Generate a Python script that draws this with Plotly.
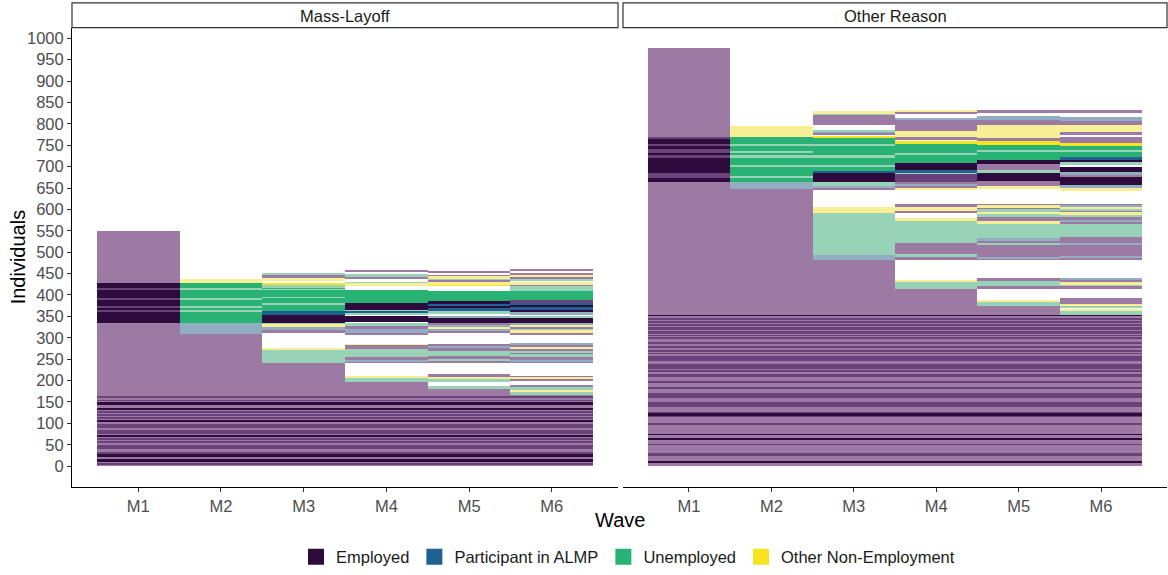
import plotly.graph_objects as go

# ---------------------------------------------------------------------------
# Data: state sequences of individuals per wave, summarised as stacked runs.
# Each wave list holds (upper bound, code) pairs stacked from the top of the
# "stable employment" block upward.  Codes: upper case = dominant sequence
# (solid), lower case = rarer sequence (faded), "m" = mid-shade employment,
# "-" = no observation.
# ---------------------------------------------------------------------------
waves = ["M1", "M2", "M3", "M4", "M5", "M6"]
facets = ["Mass-Layoff", "Other Reason"]
state_names = ["Employed", "Participant in ALMP", "Unemployed", "Other Non-Employment"]
y_ticks = list(range(0, 1001, 50))

# individuals employed in every wave (bottom block), with darker sub-runs
ml_stable_top = 166
ml_stable_lines = [(3.7, 9.1, "m"), (11.4, 16.8, "E"), (23.7, 28.3, "E"), (31.4, 34.5, "m"),
                   (41.4, 43.7, "m"), (47, 49, "m"), (56.8, 59.1, "m"), (62.2, 65.3, "m"),
                   (70.7, 74.5, "E"), (78, 80, "m"), (82.2, 86, "m"), (91, 93, "m"),
                   (96, 99, "m"), (105.3, 109.2, "E"), (113, 115, "m"), (118.4, 120.7, "m"),
                   (126, 128.4, "m"), (132.3, 137.6, "E"), (143.8, 151.5, "E"), (153, 155, "m"),
                   (160.8, 164.6, "m")]

or_stable_top = 354
or_stable_lines = [(9, 12.9, "E"), (24.5, 32.2, "m"), (51, 52.5, "m"), (62.9, 66.8, "E"),
                   (74, 75.5, "E"), (97.6, 101.4, "m"), (114.5, 128.4, "m"), (119, 120.5, "E"),
                   (123, 124.5, "E"), (139.9, 151.5, "m"), (159.2, 170.8, "m"), (182, 183.5, "m"),
                   (197, 198.5, "m"), (209.3, 217, "m"), (220.8, 224.7, "m"), (228, 229.5, "m"),
                   (232, 233.5, "m"), (236.2, 240.1, "m"), (247.5, 249, "m"), (251.6, 259.3, "m"),
                   (263, 264.5, "m"), (267, 273.2, "m"), (278, 279.5, "m"), (286.3, 290.1, "m"),
                   (299, 300.5, "m"), (305, 306.5, "m"), (309.4, 317, "m"), (320.9, 324.8, "m"),
                   (328.6, 332.5, "m"), (337.5, 339, "m"), (342.5, 345.5, "m"), (351.7, 354, "E")]

# Mass-Layoff
ml_m1 = [(335, "e"), (362, "E"), (363.5, "m"), (372, "E"), (373.5, "m"), (391, "E"), (392.5, "m"),
         (414, "E"), (415.5, "m"), (429, "E"), (551, "e")]
ml_m2 = [(310, "e"), (335, "a"), (362, "U"), (363.5, "u"), (372, "U"), (373.5, "u"), (391, "U"),
         (392.5, "u"), (414, "U"), (415.5, "u"), (429, "U"), (438, "o")]
ml_m3 = [(242, "e"), (272, "u"), (278, "o"), (311, "-"), (318, "e"), (326, "a"), (332, "o"),
         (336, "u"), (354, "E"), (363, "A"), (379, "U"), (380.5, "u"), (394, "U"), (395.5, "u"),
         (413, "U"), (414.5, "u"), (417, "U"), (423, "u"), (429, "O"), (434, "-"), (440, "o"),
         (448, "e"), (453, "u")]
ml_m4 = [(198, "e"), (208, "u"), (210, "o"), (242, "-"), (245, "e"), (250, "a"), (255, "e"),
         (275, "u"), (284, "e"), (286, "o"), (309, "-"), (312, "e"), (322, "a"), (329, "e"),
         (336, "u"), (338, "-"), (352, "E"), (355, "-"), (358, "u"), (363, "A"), (366, "u"),
         (381, "E"), (412, "U"), (422, "-"), (428, "o"), (431, "u"), (439, "-"), (443, "e"),
         (449, "u"), (454, "-"), (459, "e")]
ml_m5 = [(182, "e"), (188, "u"), (198, "-"), (205, "u"), (208, "o"), (215, "e"), (242, "-"),
         (247, "e"), (252, "u"), (259, "e"), (271, "u"), (278, "e"), (282, "a"), (286, "e"),
         (312, "-"), (316, "e"), (322, "a"), (326, "o"), (330, "a"), (336, "e"), (348, "E"),
         (352, "a"), (356, "-"), (363, "u"), (370, "A"), (376, "E"), (380, "A"), (386, "E"),
         (409, "U"), (422, "-"), (424, "O"), (426, "m"), (430, "o"), (436, "e"), (440, "u"),
         (444, "o"), (448, "e"), (452, "-"), (457, "e")]
ml_m6 = [(175, "u"), (178, "o"), (186, "u"), (190, "e"), (200, "-"), (205, "e"), (208, "o"),
         (211, "e"), (242, "-"), (246, "e"), (250, "a"), (256, "e"), (262, "u"), (266, "e"),
         (271, "u"), (276, "e"), (280, "o"), (284, "e"), (288, "a"), (309, "-"), (313, "e"),
         (318, "o"), (322, "u"), (326, "e"), (330, "o"), (336, "a"), (348, "E"), (352, "u"),
         (356, "-"), (360, "a"), (368, "E"), (372, "A"), (378, "E"), (383, "A"), (388, "m"),
         (409, "U"), (422, "u"), (426, "e"), (430, "o"), (434, "-"), (438, "u"), (444, "e"),
         (448, "o"), (452, "e"), (456, "-"), (461, "e")]

# Other Reason
or_m1 = [(664, "e"), (675, "E"), (687, "m"), (723, "E"), (727, "m"), (733, "E"), (743, "m"),
         (750, "E"), (754, "m"), (767, "E"), (771, "m"), (977, "e")]
or_m2 = [(649, "e"), (664, "a"), (675, "U"), (680, "u"), (700, "U"), (705, "u"), (723, "U"),
         (727, "u"), (733, "U"), (737, "u"), (750, "U"), (754, "u"), (771, "U"), (796, "o")]
or_m3 = [(483, "e"), (494, "a"), (592, "u"), (606, "o"), (648, "-"), (652, "e"), (656, "a"),
         (664, "u"), (685, "E"), (690, "A"), (700, "U"), (704, "u"), (723, "U"), (727, "u"),
         (750, "U"), (754, "u"), (767, "U"), (770, "-"), (773, "O"), (777, "-"), (780, "e"),
         (783, "a"), (787, "u"), (797, "-"), (823, "e"), (826, "u"), (830, "o")]
or_m4 = [(415, "e"), (430, "u"), (435, "o"), (483, "-"), (489, "e"), (497, "u"), (523, "e"),
         (574, "u"), (581, "o"), (594, "-"), (598, "e"), (607, "o"), (614, "e"), (648, "-"),
         (652, "o"), (656, "e"), (660, "a"), (666, "e"), (684, "m"), (688, "u"), (692, "A"),
         (710, "E"), (730, "U"), (733, "u"), (756, "U"), (760, "O"), (764, "-"), (771, "e"),
         (783, "o"), (810, "e"), (813, "a"), (825, "-"), (829, "e"), (833, "o")]
or_m5 = [(375, "e"), (386, "u"), (389, "o"), (415, "-"), (422, "e"), (433, "u"), (440, "e"),
         (483, "-"), (487, "e"), (490, "a"), (517, "e"), (522, "u"), (527, "e"), (533, "a"),
         (567, "u"), (574, "o"), (583, "e"), (590, "u"), (595, "o"), (602, "u"), (606, "e"),
         (610, "o"), (614, "e"), (648, "-"), (655, "o"), (667, "e"), (686, "E"), (694, "u"),
         (706, "e"), (717, "E"), (735, "U"), (740, "u"), (752, "U"), (760, "O"), (767, "e"),
         (797, "o"), (810, "e"), (818, "a"), (825, "-"), (833, "e")]
or_m6 = [(363, "u"), (369, "o"), (371, "-"), (375, "u"), (380, "o"), (394, "e"), (417, "-"),
         (421, "e"), (426, "u"), (430, "o"), (435, "e"), (440, "a"), (483, "-"), (487, "e"),
         (492, "a"), (517, "e"), (522, "a"), (537, "e"), (567, "u"), (572, "e"), (577, "a"),
         (583, "e"), (590, "u"), (594, "o"), (598, "e"), (602, "u"), (606, "o"), (610, "a"),
         (614, "e"), (646, "-"), (650, "o"), (657, "a"), (677, "E"), (681, "e"), (688, "a"),
         (700, "E"), (705, "-"), (711, "u"), (717, "E"), (723, "A"), (735, "U"), (740, "u"),
         (750, "U"), (757, "O"), (769, "e"), (775, "-"), (782, "e"), (797, "o"), (807, "e"),
         (817, "a"), (825, "-"), (833, "e")]

# ---------------------------------------------------------------------------
# Styling
# ---------------------------------------------------------------------------
colors = {
    "E": "#2d0b3c", "m": "#6b4179", "e": "#9c7aa4",
    "A": "#1f6290", "a": "#90adc2",
    "U": "#28b274", "u": "#98d2b7",
    "O": "#f6e51e", "o": "#f6ef95",
}
legend_codes = ["E", "A", "U", "O"]
FONT = "Liberation Sans, Arial, sans-serif"
W, H = 1168, 575

panel_px = [(72, 618), (623, 1167)]
top_px, bottom_px = 28, 493
y_range = [-48.8, 1024.8]
x_range = [0.2, 6.8]

panels = [
    ("x", "y", ml_stable_top, ml_stable_lines, [ml_m1, ml_m2, ml_m3, ml_m4, ml_m5, ml_m6]),
    ("x2", "y2", or_stable_top, or_stable_lines, [or_m1, or_m2, or_m3, or_m4, or_m5, or_m6]),
]

fig = go.Figure()

for xa, ya, stable_top, stable_lines, wave_runs in panels:
    # bottom block: employed in all six waves, spans the whole wave axis
    fig.add_trace(go.Bar(x=[3.5], y=[stable_top], base=[0], width=6,
                         marker=dict(color=colors["e"], line=dict(width=0)),
                         xaxis=xa, yaxis=ya, showlegend=False, hoverinfo="skip"))
    for code in ["m", "E"]:
        sel = [(lo, hi) for lo, hi, c in stable_lines if c == code]
        fig.add_trace(go.Bar(x=[3.5] * len(sel), y=[hi - lo for lo, hi in sel],
                             base=[lo for lo, hi in sel], width=6,
                             marker=dict(color=colors[code], line=dict(width=0)),
                             xaxis=xa, yaxis=ya, showlegend=False, hoverinfo="skip"))

    # per-wave runs above the stable block
    by_code = {}
    for i, runs in enumerate(wave_runs):
        lo = stable_top
        for hi, code in runs:
            if code != "-":
                d = by_code.setdefault(code, {"x": [], "y": [], "base": []})
                d["x"].append(i + 1)
                d["y"].append(hi - lo)
                d["base"].append(lo)
            lo = hi
    for code, d in by_code.items():
        fig.add_trace(go.Bar(x=d["x"], y=d["y"], base=d["base"], width=1,
                             marker=dict(color=colors[code], line=dict(width=0)),
                             xaxis=xa, yaxis=ya, showlegend=False, hoverinfo="skip"))

# legend keys
for code, name in zip(legend_codes, state_names):
    fig.add_trace(go.Scatter(x=[None], y=[None], mode="markers", name=name,
                             marker=dict(symbol="square", size=18, color=colors[code]),
                             showlegend=True))

dom = lambda a, b: [a / W, b / W]
ydom = [1 - bottom_px / H, 1 - top_px / H]
tickfont = dict(family=FONT, size=16.5, color="#4d4d4d")

common_x = dict(range=x_range, tickmode="array", tickvals=[1, 2, 3, 4, 5, 6], ticktext=waves,
                showline=True, linecolor="black", linewidth=1, ticks="outside", ticklen=4,
                tickcolor="#333333", tickfont=tickfont, showgrid=False, zeroline=False,
                fixedrange=True)
fig.update_layout(
    width=W, height=H,
    margin=dict(l=0, r=0, t=0, b=0),
    paper_bgcolor="white", plot_bgcolor="white",
    barmode="overlay", bargap=0,
    xaxis=dict(domain=dom(*panel_px[0]), anchor="y", **common_x),
    xaxis2=dict(domain=dom(*panel_px[1]), anchor="y2", **common_x),
    yaxis=dict(domain=ydom, range=y_range, tickmode="array", tickvals=y_ticks,
               showline=True, linecolor="black", linewidth=1, ticks="outside", ticklen=4,
               tickcolor="#333333", tickfont=tickfont, showgrid=False, zeroline=False),
    yaxis2=dict(domain=ydom, range=y_range, anchor="x2", showline=False, showticklabels=False,
                ticks="", showgrid=False, zeroline=False),
    legend=dict(orientation="h", x=628 / W, xanchor="center", y=1 - 564 / H, yanchor="middle",
                font=dict(family=FONT, size=16.5, color="#1a1a1a"), itemsizing="trace",
                bgcolor="rgba(0,0,0,0)"),
    showlegend=True,
)

# facet strips
for (x0, x1), label in zip(panel_px, facets):
    fig.add_shape(type="rect", xref="paper", yref="paper",
                  x0=x0 / W, x1=x1 / W, y0=1 - 28 / H, y1=1 - 3 / H,
                  line=dict(color="#333333", width=1.2), fillcolor="white", layer="above")
    fig.add_annotation(x=(x0 + x1) / 2 / W, y=1 - 16 / H, xref="paper", yref="paper",
                       text=label, showarrow=False, xanchor="center", yanchor="middle",
                       font=dict(family=FONT, size=16.5, color="#1a1a1a"))

# axis titles
fig.add_annotation(x=(panel_px[0][0] + panel_px[1][1]) / 2 / W, y=1 - 526 / H,
                   xref="paper", yref="paper", text="Wave", showarrow=False,
                   xanchor="center", yanchor="middle",
                   font=dict(family=FONT, size=20, color="black"))
fig.add_annotation(x=18 / W, y=1 - (top_px + bottom_px) / 2 / H, xref="paper", yref="paper",
                   text="Individuals", showarrow=False, textangle=-90,
                   xanchor="center", yanchor="middle",
                   font=dict(family=FONT, size=20, color="black"))

fig.write_html("out.html")
